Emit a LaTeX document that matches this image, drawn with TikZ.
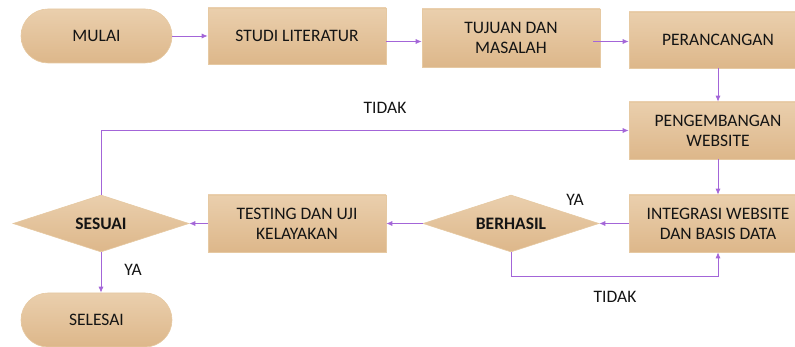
\documentclass[tikz,border=0pt]{standalone}
\usepackage{fontspec}
\setmainfont{Carlito}
\usetikzlibrary{shapes.geometric,arrows.meta}
\definecolor{tanTop}{HTML}{EACFAD}
\definecolor{tanBot}{HTML}{DDB78A}
\definecolor{tanEdge}{HTML}{E6C9A2}
\definecolor{flowline}{HTML}{A365D8}
\definecolor{txt}{HTML}{141414}
\tikzset{
  base/.style={top color=tanTop, bottom color=tanBot, draw=tanEdge, line width=0.6pt,
    text=txt, font=\fontsize{17.5}{20}\selectfont, align=center, inner sep=0pt},
  procbox/.style={base, rectangle, minimum width=178pt, minimum height=57pt},
  termbox/.style={base, rectangle, rounded corners=27pt, minimum width=151pt, minimum height=54pt},
  decbox/.style={base, diamond, minimum width=176pt, minimum height=57pt, aspect=3.1,
    font=\fontsize{17.5}{20}\selectfont\bfseries},
  flow/.style={draw=flowline, line width=0.8pt, -{Latex[length=6pt,width=5pt]}},
  lbl/.style={text=txt, font=\fontsize{17.5}{20}\selectfont, inner sep=0pt}
}
\begin{document}
\begin{tikzpicture}[x=1pt,y=-1pt]
\useasboundingbox (0,0) rectangle (795,347);
\clip (0,0) rectangle (795,347);
\node[termbox] (mulai) at (96.5,36) {MULAI};
\node[procbox, minimum height=56pt] (studi) at (297,36) {STUDI LITERATUR};
\node[procbox, minimum height=58pt] (tujuan) at (511,38) {TUJUAN DAN\\MASALAH};
\node[procbox, minimum height=56pt] (peranc) at (718,40) {PERANCANGAN};
\node[procbox] (pengem) at (718,130.5) {PENGEMBANGAN\\WEBSITE};
\node[procbox] (integ) at (718,223.5) {INTEGRASI WEBSITE\\DAN BASIS DATA};
\node[decbox] (berhasil) at (511,223.5) {BERHASIL};
\node[procbox] (testing) at (297,223.5) {TESTING DAN UJI\\KELAYAKAN};
\node[decbox] (sesuai) at (101,223.5) {SESUAI};
\node[termbox] (selesai) at (96.5,320) {SELESAI};

\draw[flow] (mulai.east) -- (studi.west);
\draw[flow] ([yshift=-5.5pt]studi.east) -- (tujuan.west |- 0,41.5);
\draw[flow] ([xshift=-7pt,yshift=-3.5pt]tujuan.east) -- (peranc.west |- 0,41.5);
\draw[flow] (peranc.south) -- (pengem.north);
\draw[flow] (pengem.south) -- (integ.north);
\draw[flow] (integ.west) -- (berhasil.east);
\draw[flow] (berhasil.west) -- (testing.east);
\draw[flow] (testing.west) -- (sesuai.east);
\draw[flow] (sesuai.south) -- (sesuai.south |- selesai.north);
\draw[flow] (sesuai.north) |- (pengem.west);
\draw[flow] (berhasil.south) -- ++(0,24) -| (integ.south);

\node[lbl] (t1) at (385,108) {TIDAK};
\node[lbl] (y1) at (575,200) {YA};
\node[lbl] (y2) at (133,270) {YA};
\node[lbl] (t2) at (615,297) {TIDAK};
\end{tikzpicture}
\end{document}
